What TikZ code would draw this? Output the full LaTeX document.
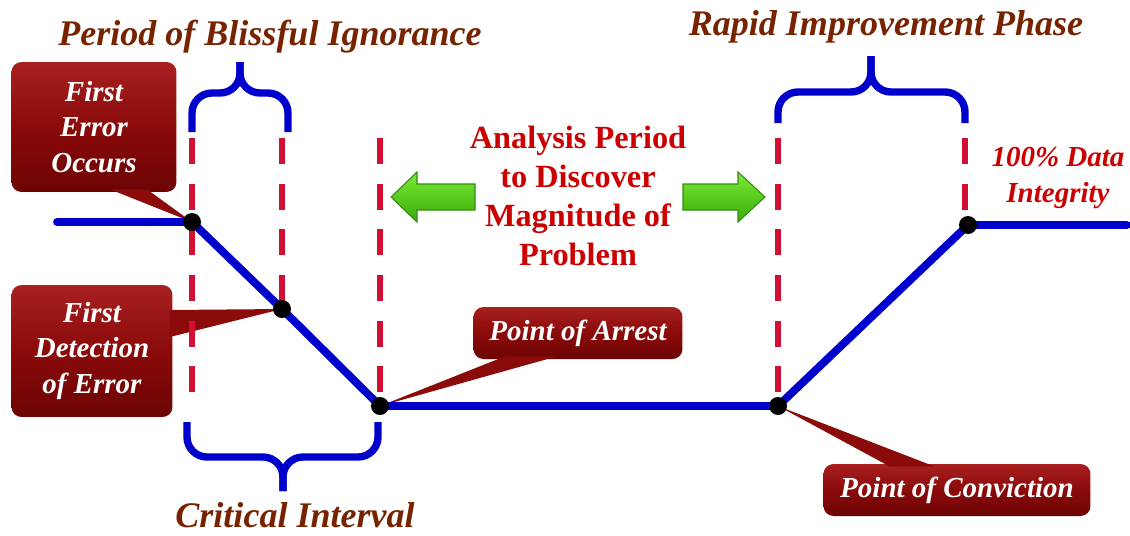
\documentclass[tikz,border=0pt]{standalone}
\usepackage{fontspec}
\setmainfont{Liberation Serif}
\usetikzlibrary{calc}

\definecolor{lineblue}{RGB}{0,0,204}
\definecolor{guidered}{RGB}{210,16,52}
\definecolor{boxred}{RGB}{139,10,10}
\definecolor{boxtop}{RGB}{168,32,32}
\definecolor{boxbot}{RGB}{108,4,4}
\definecolor{titlebrown}{RGB}{120,35,0}
\definecolor{textred}{RGB}{204,0,0}
\definecolor{greentop}{RGB}{120,235,50}
\definecolor{greenbot}{RGB}{60,170,10}
\definecolor{greenedge}{RGB}{50,140,20}

\begin{document}
\begin{tikzpicture}[x=0.02cm, y=-0.02cm,
    mainline/.style={line width=4.5pt, color=lineblue, line cap=round, line join=round},
    guide/.style={line width=3.2pt, color=guidered, dash pattern=on 14.7pt off 11.3pt},
    brace/.style={line width=4.2pt, color=lineblue, rounded corners=0.4cm},
    dot/.style={circle, fill=black, inner sep=0pt, minimum size=0.36cm},
    callout/.style={rounded corners=0.2cm, top color=boxtop, bottom color=boxbot, middle color=boxred,
        text=white, font=\fontsize{16.5}{20}\selectfont\bfseries\itshape, align=center, inner sep=0pt},
    pointer/.style={fill=boxred},
    title/.style={text=titlebrown, font=\fontsize{20.5}{24}\selectfont\bfseries\itshape, inner sep=0pt, anchor=base},
    greenarrow/.style={top color=greentop, bottom color=greenbot, draw=greenedge, line width=0.6pt}]
    \useasboundingbox (0,0) rectangle (1130,535);

    % points on the curve
    \coordinate (start) at (57,222);
    \coordinate (err) at (192,222);
    \coordinate (det) at (282,309);
    \coordinate (arr) at (380,406);
    \coordinate (conv) at (778,406);
    \coordinate (integ) at (968,225);
    \coordinate (stop) at (1127,225);

    % callouts
    \node[callout, minimum width=3.3cm, minimum height=2.6cm] (fe) at (94,127) {First\\Error\\Occurs};
    \node[callout, minimum width=3.22cm, minimum height=2.64cm] (fd) at (92,351) {First\\Detection\\of Error};
    \node[callout, minimum width=4.18cm, minimum height=1.04cm] (pa) at (578,333) {Point of Arrest};
    \node[callout, minimum width=5.34cm, minimum height=1.04cm] (pc) at (957,490) {Point of Conviction};

    \fill[pointer] ($(fe.south)+(16,-3)$) -- (err) -- ($(fe.south)+(53,-3)$) -- cycle;
    \fill[pointer] ($(fd.east)+(-3,-41)$) -- (det) -- ($(fd.east)+(-3,-14)$) -- cycle;
    \fill[pointer] ($(pa.south)+(-73,-3)$) -- (arr) -- ($(pa.south)+(-21,-3)$) -- cycle;
    \fill[pointer] ($(pc.north)+(-67,3)$) -- (conv) -- ($(pc.north)+(-22,3)$) -- cycle;

    % dashed guides
    \draw[guide] (192,138) -- (192,396);
    \draw[guide] (282,138) -- (det);
    \draw[guide] (380,138) -- (arr);
    \draw[guide] (778,138) -- (conv);
    \draw[guide] (965,138) -- (965,225);

    % braces
    \draw[brace] (192,132) -- (192,93) -- (240,93) -- (240,62);
    \draw[brace] (240,62) -- (240,93) -- (288,93) -- (288,132);
    \draw[brace] (778,123) -- (778,92) -- (871,92) -- (871,56);
    \draw[brace] (871,56) -- (871,92) -- (965,92) -- (965,123);
    \draw[brace] (187,422) -- (187,457) -- (283,457) -- (283,491);
    \draw[brace] (283,491) -- (283,457) -- (378,457) -- (378,422);

    % main curve
    \draw[mainline] (start) -- (err) -- (det) -- (arr) -- (conv) -- (integ) -- (stop);
    \foreach \p in {err,det,arr,conv,integ}
        \node[dot] at (\p) {};

    % titles
    \node[title] (blissful) at (270,45) {Period of Blissful Ignorance};
    \node[title] (rapid) at (886,35) {Rapid Improvement Phase};
    \node[title] (critical) at (295,527) {Critical Interval};

    \node[text=textred, font=\fontsize{18.4}{22.2}\selectfont\bfseries, align=center, inner sep=0pt]
        (analysis) at (578,196) {Analysis Period\\to Discover\\Magnitude of\\Problem};
    \node[text=textred, font=\fontsize{16.5}{21}\selectfont\bfseries\itshape, align=center, inner sep=0pt]
        (integrity) at (1058,178) {100\% Data\\Integrity};

    % green arrows
    \draw[greenarrow] (391,197) -- (417,172) -- (417,184) -- (475,184) -- (475,210) -- (417,210) -- (417,222) -- cycle;
    \draw[greenarrow] (765,197) -- (738,172) -- (738,184) -- (683,184) -- (683,210) -- (738,210) -- (738,222) -- cycle;
\end{tikzpicture}
\end{document}
